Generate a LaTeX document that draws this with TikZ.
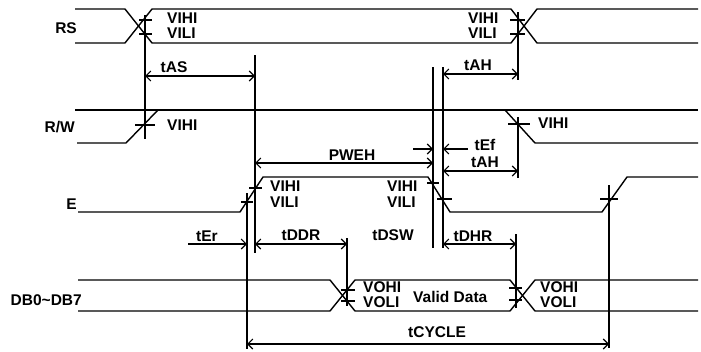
\documentclass[tikz,border=0pt]{standalone}
\usepackage{fontspec}
\setmainfont{Liberation Sans}
\usetikzlibrary{arrows.meta}
\tikzset{
>={Straight Barb[length=5pt,width=10pt]},
  wave/.style={draw, line width=1.4pt, line join=round},
  guide/.style={draw, line width=1.1pt},
  tickline/.style={draw, line width=1.1pt},
  dimline/.style={draw, line width=1.1pt, <->},
  halfdim/.style={draw, line width=1.1pt, ->},
  signame/.style={
    font=\fontsize{15.5}{17}\selectfont\bfseries,
    inner sep=0pt,
    anchor=east},
  level/.style={
    font=\fontsize{15.5}{17}\selectfont\bfseries,
    inner sep=0pt,
    anchor=west},
  dimtext/.style={
    font=\fontsize{15.5}{17}\selectfont\bfseries,
    inner sep=0pt},
}
\begin{document}
\begin{tikzpicture}[x=1pt,y=-1pt]
  \useasboundingbox (0,0) rectangle (701,351);

  \node[signame] (rs) at (77,28)  {RS};
  \node[signame] (rw) at (75,127) {R/W};
  \node[signame] (e)  at (77,204) {E};
  \node[signame] (db) at (82,300) {DB0\textasciitilde DB7};

  \draw[wave] (75,9) -- (125,9) -- (152,43) -- (511,43) -- (537,9) -- (698,9);
  \draw[wave] (75,43) -- (125,43) -- (152,9) -- (511,9) -- (537,43) -- (698,43);
  \draw[wave] (75,110) -- (698,110);
  \draw[wave] (77,143) -- (126,143) -- (158,110);
  \draw[wave] (505,110) -- (535,143) -- (698,143);
  \draw[wave] (78,212) -- (240,212) -- (263,177) -- (428,177) -- (450,212)
    -- (602,212) -- (627,177) -- (698,177);
  \draw[wave] (78,280) -- (330,280) -- (355,311) -- (510,311) -- (535,280) -- (698,280);
  \draw[wave] (78,311) -- (330,311) -- (355,280) -- (510,280) -- (535,311) -- (698,311);

  \coordinate (ras) at (145,76);
  \coordinate (eas) at (255,76);
  \coordinate (sah) at (443,74);
  \coordinate (eah) at (518,74);
  \coordinate (ser) at (188,244);
  \coordinate (eer) at (247,244);
  \coordinate (sddr) at (255,244);
  \coordinate (eddr) at (347,244);
  \coordinate (sdhr) at (443,244);
  \coordinate (edhr) at (516,244);
  \coordinate (spw) at (255,163);
  \coordinate (epw) at (433,163);
  \coordinate (sef) at (413,149);
  \coordinate (eef) at (433,149);
  \coordinate (sef2) at (468,149);
  \coordinate (eef2) at (443,149);
  \coordinate (sah2) at (443,171);
  \coordinate (eah2) at (518,171);
  \coordinate (scy) at (247,344);
  \coordinate (ecy) at (609,344);

  \draw[guide] (145,15) -- (145,139);
  \draw[guide] (518,12) -- (518,80);
  \draw[guide] (255,55) -- (255,253);
  \draw[guide] (433,67) -- (433,248);
  \draw[guide] (443,67) -- (443,248);
  \draw[guide] (518,117) -- (518,178);
  \draw[guide] (247,193) -- (247,349);
  \draw[guide] (609,185) -- (609,348);
  \draw[guide] (347,238) -- (347,306);
  \draw[guide] (516,234) -- (516,308);

  \draw[tickline] (139,20) -- (152,20);
  \draw[tickline] (139,34) -- (152,34);
  \draw[tickline] (510,20) -- (525,20);
  \draw[tickline] (510,34) -- (525,34);
  \draw[tickline] (135,125) -- (155,125);
  \draw[tickline] (508,124) -- (530,124);
  \draw[tickline] (241,202) -- (253,202);
  \draw[tickline] (249,188) -- (262,188);
  \draw[tickline] (427,183) -- (439,183);
  \draw[tickline] (437,199) -- (452,199);
  \draw[tickline] (600,199) -- (618,199);
  \draw[tickline] (341,290) -- (355,290);
  \draw[tickline] (341,301) -- (355,301);
  \draw[tickline] (509,288) -- (522,288);
  \draw[tickline] (509,300) -- (522,300);

  \draw[dimline] (ras) -- (eas);
  \draw[dimline] (sah) -- (eah);
  \draw[dimline] (spw) -- (epw);
  \draw[halfdim] (sef) -- (eef);
  \draw[halfdim] (sef2) -- (eef2);
  \draw[dimline] (sah2) -- (eah2);
  \draw[halfdim] (ser) -- (eer);
  \draw[dimline] (sddr) -- (eddr);
  \draw[dimline] (sdhr) -- (edhr);
  \draw[dimline] (scy) -- (ecy);

  \node[level] (rshi1) at (167,18) {VIHI};
  \node[level] (rslo1) at (167,33) {VILI};
  \node[level] (rshi2) at (468,18) {VIHI};
  \node[level] (rslo2) at (468,33) {VILI};
  \node[level] (rwhi1) at (167,125) {VIHI};
  \node[level] (rwhi2) at (538,123) {VIHI};
  \node[level] (ehi1) at (270,186) {VIHI};
  \node[level] (elo1) at (270,202) {VILI};
  \node[level] (ehi2) at (387,186) {VIHI};
  \node[level] (elo2) at (387,202) {VILI};
  \node[level] (dbhi1) at (363,287) {VOHI};
  \node[level] (dblo1) at (363,302) {VOLI};
  \node[level] (valid) at (413,297) {Valid Data};
  \node[level] (dbhi2) at (540,287) {VOHI};
  \node[level] (dblo2) at (540,302) {VOLI};

  \node[dimtext] (tas) at (174,67) {tAS};
  \node[dimtext] (tah) at (478,65) {tAH};
  \node[dimtext] (pweh) at (352,155) {PWEH};
  \node[dimtext] (tef) at (485,145) {tEf};
  \node[dimtext] (tah2) at (485,162) {tAH};
  \node[dimtext] (ter) at (207,236) {tEr};
  \node[dimtext] (tddr) at (301,235) {tDDR};
  \node[dimtext] (tdsw) at (393,235) {tDSW};
  \node[dimtext] (tdhr) at (473,236) {tDHR};
  \node[dimtext] (tcycle) at (437,332) {tCYCLE};
\end{tikzpicture}
\end{document}
